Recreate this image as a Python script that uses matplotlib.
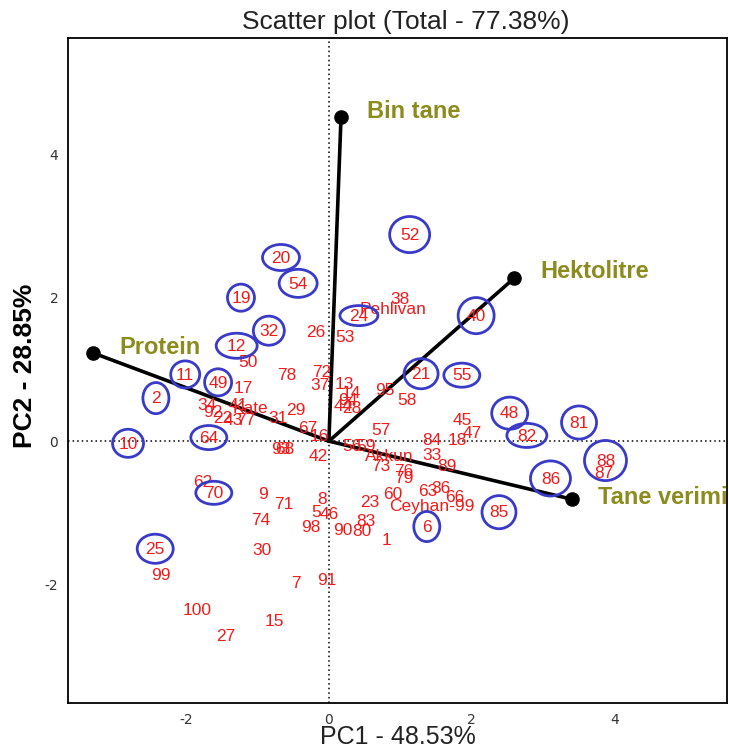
import matplotlib
matplotlib.use("Agg")
import matplotlib.pyplot as plt
from matplotlib.patches import Ellipse

plt.rcParams["axes.unicode_minus"] = False

# genotypes (PC1, PC2 scores)
labels = ["52", "20", "54", "19", "24", "40", "32", "12", "11", "49", "2", "21", "55",
          "48", "82", "81", "10", "64", "88", "87", "86", "85", "6", "70", "25",
          "38", "26", "53", "50", "78", "72", "37", "13", "14", "95", "58", "44", "28",
          "94", "45", "84", "18", "47", "57", "33", "89", "29", "31", "67", "16", "42",
          "93", "68", "62", "9", "71", "74", "30", "99", "100", "27", "15", "7", "91",
          "8", "5", "46", "98", "90", "80", "83", "23", "60", "1", "63", "36", "66",
          "73", "76", "79", "56", "59", "17", "41", "34", "92", "22", "43", "77"]
pc1 = [1.13, -0.67, -0.43, -1.23, 0.42, 2.06, -0.84, -1.29, -2.01, -1.55, -2.42, 1.29, 1.86,
       2.53, 2.77, 3.50, -2.81, -1.68, 3.87, 3.85, 3.10, 2.38, 1.37, -1.61, -2.43,
       0.99, -0.18, 0.22, -1.13, -0.59, -0.10, -0.13, 0.22, 0.32, 0.78, 1.09, 0.20, 0.32,
       0.26, 1.86, 1.44, 1.79, 2.00, 0.73, 1.44, 1.65, -0.46, -0.71, -0.29, -0.13, -0.15,
       -0.67, -0.62, -1.76, -0.92, -0.63, -0.95, -0.94, -2.35, -1.85, -1.44, -0.76, -0.46, -0.03,
       -0.10, -0.18, 0.01, -0.25, 0.20, 0.46, 0.52, 0.57, 0.90, 0.81, 1.38, 1.57, 1.76,
       0.73, 1.05, 1.05, 0.32, 0.52, -1.20, -1.27, -1.71, -1.62, -1.48, -1.34, -1.17]
pc2 = [2.87, 2.55, 2.19, 1.99, 1.74, 1.74, 1.53, 1.32, 0.92, 0.81, 0.59, 0.93, 0.91,
       0.38, 0.07, 0.25, -0.04, 0.04, -0.28, -0.45, -0.53, -1.00, -1.20, -0.73, -1.51,
       1.98, 1.52, 1.44, 1.10, 0.91, 0.96, 0.78, 0.79, 0.67, 0.71, 0.56, 0.49, 0.46,
       0.57, 0.29, 0.01, 0.01, 0.10, 0.15, -0.20, -0.36, 0.43, 0.31, 0.18, 0.06, -0.22,
       -0.11, -0.11, -0.57, -0.74, -0.88, -1.10, -1.53, -1.87, -2.36, -2.72, -2.51, -1.98, -1.94,
       -0.81, -0.99, -1.02, -1.20, -1.24, -1.26, -1.12, -0.85, -0.74, -1.39, -0.70, -0.66, -0.78,
       -0.35, -0.42, -0.52, -0.08, -0.07, 0.74, 0.50, 0.50, 0.40, 0.32, 0.29, 0.29]

# highlighted genotypes and the size of their rings (pixels)
circled = ["52", "20", "54", "19", "24", "40", "32", "12", "11", "49", "2", "21", "55",
           "48", "82", "81", "10", "64", "88", "86", "85", "6", "70", "25"]
ring_w = [40, 37, 38, 27, 38, 36, 31, 41, 29, 27, 26, 34, 36,
          36, 40, 35, 31, 36, 42, 40, 34, 26, 36, 36]
ring_h = [36, 26, 28, 27, 20, 36, 29, 25, 27, 27, 31, 30, 24,
          32, 24, 33, 28, 24, 40, 35, 33, 30, 23, 29]

# check cultivars
cultivars = ["Pehlivan", "Ceyhan-99", "Akkun", "Kate"]
cult_pc1 = [0.90, 1.44, 0.85, -1.10]
cult_pc2 = [1.84, -0.91, -0.21, 0.46]

# trait vectors
traits = ["Bin tane", "Hektolitre", "Protein", "Tane verimi"]
trait_pc1 = [0.17, 2.59, -3.30, 3.40]
trait_pc2 = [4.52, 2.27, 1.23, -0.81]
trait_dy = [0.07, 0.09, 0.08, 0.02]  # label offset above the arrow tip

red = "#f01c1c"
blue = "#3a3ac8"
olive = "#8c8c1e"
px = 71.5  # pixels per data unit

fig = plt.figure(figsize=(7.29, 7.51), dpi=100)
ax = fig.add_axes([68 / 729, 1 - 703 / 751, 659 / 729, 665 / 751])

ax.axhline(0, color="black", lw=1.1, ls=(0, (1, 2)), zorder=1)
ax.axvline(0, color="black", lw=1.1, ls=(0, (1, 2)), zorder=1)

for lab, x, y in zip(labels, pc1, pc2):
    ax.text(x, y, lab, color=red, fontsize=12.5, ha="center", va="center",
            family="Liberation Sans", zorder=4)

for lab, w, h in zip(circled, ring_w, ring_h):
    i = labels.index(lab)
    ax.add_patch(Ellipse((pc1[i], pc2[i] + 0.01), w / px, h / px,
                         fill=False, ec=blue, lw=2, zorder=5))

for lab, x, y in zip(cultivars, cult_pc1, cult_pc2):
    ax.text(x, y, lab, color=red, fontsize=12.5, ha="center", va="center",
            family="Liberation Sans", zorder=4)

for name, x, y, dy in zip(traits, trait_pc1, trait_pc2, trait_dy):
    ax.plot([0, x], [0, y], color="black", lw=2.6, zorder=3, solid_capstyle="round")
    ax.plot(x, y, "o", color="black", ms=9.5, zorder=6)
    ax.text(x + 0.37, y + dy, name, color=olive, fontsize=17, fontweight="bold",
            ha="left", va="center", family="Liberation Sans", clip_on=True, zorder=6)

ax.set_xlim(-3.65, 5.57)
ax.set_ylim(-3.65, 5.62)
ax.set_xticks([-2, 0, 2, 4])
ax.set_yticks([-2, 0, 2, 4])
ax.tick_params(length=0, labelsize=10, labelcolor="#333333", pad=7)
for s in ax.spines.values():
    s.set_linewidth(1.3)

fig.text(406 / 729, 1 - 22 / 751, "Scatter plot (Total - 77.38%)", fontsize=19,
         color="#222222", ha="center", va="center", family="Liberation Sans")
fig.text(398 / 729, 1 - 737 / 751, "PC1 - 48.53%", fontsize=18,
         color="#222222", ha="center", va="center", family="Liberation Sans")
fig.text(25 / 729, 1 - 366 / 751, "PC2 - 28.85%", fontsize=19, fontweight="bold",
         rotation=90, ha="center", va="center", family="Liberation Sans")

fig.savefig("out.png", dpi=100)
